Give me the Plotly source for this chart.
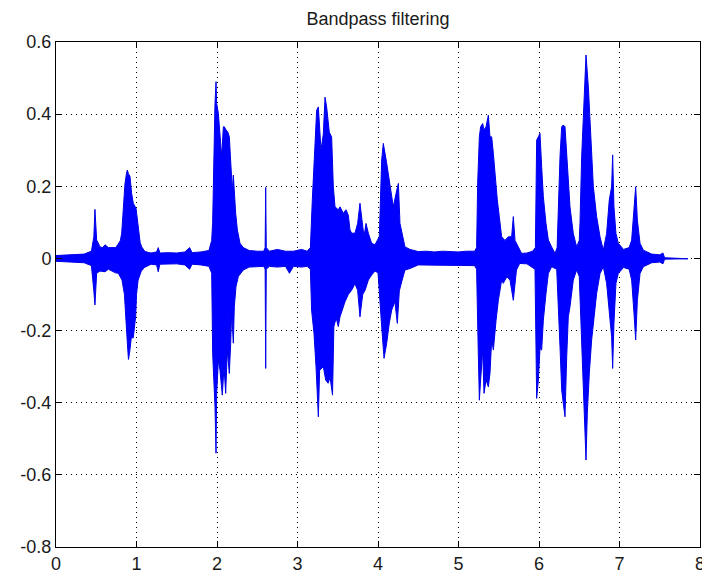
import plotly.graph_objects as go

# ---- Data ----
# Upper envelope of the waveform: time (s) and amplitude
upper_t = [0.0, 0.2, 0.35, 0.44, 0.455, 0.47, 0.484, 0.495, 0.505, 0.53, 0.547, 0.58, 0.609, 0.65, 0.691, 0.74, 0.774,
           0.80, 0.816, 0.84, 0.857, 0.875, 0.886, 0.9, 0.919, 0.94, 0.96, 0.994, 1.01, 1.023, 1.045, 1.064, 1.106,
           1.18, 1.25, 1.27, 1.29, 1.4, 1.5, 1.6, 1.66, 1.69, 1.8, 1.9, 1.934,
           1.946, 1.954, 1.975, 1.988, 1.996, 2.017, 2.037, 2.058, 2.079, 2.091, 2.112, 2.133, 2.153, 2.17, 2.19,
           2.203, 2.215, 2.232, 2.253, 2.286, 2.327, 2.4, 2.5, 2.58, 2.598, 2.605, 2.612, 2.65, 2.75, 2.85, 2.95,
           3.05, 3.12, 3.16,
           3.184, 3.205, 3.238, 3.259, 3.275, 3.292, 3.321, 3.342, 3.362, 3.383, 3.395, 3.424, 3.445, 3.466, 3.507,
           3.528, 3.569, 3.602, 3.631, 3.652, 3.673, 3.714, 3.747, 3.776, 3.797, 3.826, 3.851, 3.88, 3.921, 3.963,
           3.991, 4.016, 4.046, 4.066, 4.108, 4.149, 4.19, 4.224, 4.253, 4.273, 4.306, 4.335, 4.398,
           4.5, 4.6, 4.7, 4.8, 4.9, 5.0, 5.1, 5.2, 5.225,
           5.238, 5.259, 5.275, 5.3, 5.317, 5.342, 5.371, 5.391, 5.412, 5.433, 5.453, 5.482, 5.507, 5.536, 5.577,
           5.619, 5.66, 5.681, 5.702, 5.743, 5.784, 5.85, 5.92, 5.955,
           5.971, 5.992, 6.012, 6.033, 6.054, 6.087, 6.116, 6.157, 6.199, 6.225,
           6.24, 6.261, 6.282, 6.302, 6.323, 6.344, 6.364, 6.385, 6.426, 6.468, 6.5,
           6.509, 6.53, 6.559, 6.584, 6.613, 6.633, 6.654, 6.675, 6.716, 6.758, 6.799,
           6.84, 6.873, 6.902, 6.915, 6.931, 6.956, 6.985, 7.05, 7.12,
           7.151, 7.18, 7.201, 7.222, 7.255, 7.296, 7.4, 7.5, 7.54, 7.56, 7.85]
upper_v = [0.008, 0.01, 0.012, 0.02, 0.04, 0.06, 0.136, 0.08, 0.051, 0.04, 0.032, 0.03, 0.038, 0.03, 0.03, 0.03, 0.04,
           0.05, 0.07, 0.15, 0.208, 0.235, 0.245, 0.235, 0.227, 0.18, 0.153, 0.139, 0.11, 0.079, 0.045, 0.032, 0.019,
           0.015, 0.018, 0.03, 0.015, 0.016, 0.015, 0.018, 0.03, 0.016, 0.018, 0.022, 0.05,
           0.1, 0.227, 0.43, 0.49, 0.43, 0.402, 0.328, 0.282, 0.365, 0.365, 0.356, 0.351, 0.337, 0.254, 0.19,
           0.231, 0.18, 0.125, 0.079, 0.042, 0.03, 0.022, 0.02, 0.02, 0.03, 0.197, 0.03, 0.02, 0.025, 0.02, 0.02,
           0.025, 0.02, 0.03,
           0.162, 0.27, 0.411, 0.42, 0.35, 0.3, 0.345, 0.447, 0.42, 0.36, 0.35, 0.337, 0.199, 0.143, 0.135,
           0.143, 0.125, 0.135, 0.12, 0.079, 0.07, 0.07, 0.097, 0.153, 0.107, 0.06, 0.097, 0.07, 0.042, 0.038,
           0.05, 0.06, 0.273, 0.319, 0.264, 0.199, 0.143, 0.18, 0.208, 0.097, 0.06, 0.032, 0.025,
           0.019, 0.02, 0.018, 0.02, 0.019, 0.018, 0.02, 0.02, 0.03,
           0.208, 0.337, 0.365, 0.374, 0.356, 0.365, 0.397, 0.337, 0.337, 0.291, 0.236, 0.162, 0.116, 0.06, 0.05,
           0.06, 0.06, 0.116, 0.05, 0.032, 0.014, 0.015, 0.02, 0.03,
           0.328, 0.337, 0.347, 0.254, 0.171, 0.097, 0.051, 0.032, 0.014, 0.03,
           0.162, 0.282, 0.365, 0.37, 0.365, 0.282, 0.217, 0.143, 0.069, 0.032, 0.05,
           0.097, 0.282, 0.457, 0.564, 0.476, 0.374, 0.263, 0.199, 0.116, 0.06, 0.023,
           0.069, 0.162, 0.199, 0.287, 0.143, 0.069, 0.042, 0.025, 0.03,
           0.051, 0.125, 0.199, 0.106, 0.042, 0.023, 0.012, 0.01, 0.015, 0.002, 0.001]

# Lower envelope of the waveform: time (s) and amplitude
lower_t = [0.0, 0.2, 0.35, 0.44, 0.455, 0.47, 0.484, 0.495, 0.505, 0.547, 0.609, 0.65, 0.691, 0.74, 0.774,
           0.80, 0.82, 0.85, 0.87, 0.885, 0.9, 0.915, 0.935, 0.96, 0.99, 1.0, 1.02, 1.06, 1.1,
           1.18, 1.25, 1.27, 1.29, 1.4, 1.5, 1.6, 1.66, 1.69, 1.8, 1.9, 1.934,
           1.946, 1.963, 1.975, 1.988, 1.996, 2.017, 2.037, 2.066, 2.087, 2.108, 2.128, 2.153, 2.17, 2.182, 2.203,
           2.215, 2.236, 2.265, 2.327, 2.4, 2.5, 2.58, 2.598, 2.605, 2.612, 2.65, 2.75, 2.85, 2.9, 2.95,
           3.05, 3.12, 3.16,
           3.175, 3.205, 3.23, 3.259, 3.275, 3.321, 3.35, 3.38, 3.405, 3.435, 3.452, 3.48, 3.507, 3.528, 3.56,
           3.59, 3.631, 3.673, 3.714, 3.747, 3.776, 3.81, 3.84, 3.88, 3.921, 3.963, 4.0, 4.046, 4.075, 4.108,
           4.14, 4.17, 4.21, 4.24, 4.265, 4.3, 4.335, 4.398,
           4.5, 4.6, 4.7, 4.8, 4.9, 5.0, 5.1, 5.2, 5.225,
           5.238, 5.259, 5.275, 5.3, 5.317, 5.342, 5.371, 5.391, 5.412, 5.433, 5.467, 5.495, 5.536, 5.556, 5.6,
           5.64, 5.681, 5.72, 5.76, 5.85, 5.95,
           5.971, 5.992, 6.012, 6.033, 6.054, 6.087, 6.116, 6.157, 6.22,
           6.24, 6.261, 6.282, 6.302, 6.323, 6.344, 6.364, 6.385, 6.426, 6.468, 6.5,
           6.516, 6.54, 6.571, 6.584, 6.6, 6.625, 6.654, 6.675, 6.716, 6.758, 6.799,
           6.84, 6.873, 6.902, 6.915, 6.931, 6.956, 6.985, 7.05, 7.12,
           7.151, 7.18, 7.201, 7.222, 7.255, 7.296, 7.4, 7.5, 7.54, 7.56, 7.85]
lower_v = [-0.008, -0.01, -0.012, -0.02, -0.05, -0.09, -0.129, -0.1, -0.041, -0.035, -0.037, -0.03, -0.035, -0.04, -0.041,
           -0.05, -0.06, -0.1, -0.16, -0.23, -0.28, -0.26, -0.22, -0.22, -0.16, -0.1, -0.06, -0.035, -0.025,
           -0.016, -0.018, -0.037, -0.016, -0.016, -0.015, -0.018, -0.03, -0.016, -0.018, -0.022, -0.041,
           -0.263, -0.337, -0.411, -0.54, -0.374, -0.282, -0.31, -0.379, -0.3, -0.374, -0.254, -0.319, -0.235, -0.152, -0.235,
           -0.134, -0.078, -0.05, -0.032, -0.024, -0.022, -0.022, -0.03, -0.305, -0.03, -0.022, -0.024, -0.022, -0.041, -0.022,
           -0.024, -0.022, -0.03,
           -0.143, -0.208, -0.3, -0.439, -0.31, -0.3, -0.337, -0.346, -0.33, -0.379, -0.189, -0.165, -0.189, -0.162, -0.14,
           -0.12, -0.1, -0.088, -0.07, -0.088, -0.162, -0.1, -0.088, -0.06, -0.046, -0.035, -0.04, -0.189, -0.277, -0.235,
           -0.18, -0.143, -0.12, -0.18, -0.09, -0.06, -0.032, -0.028,
           -0.018, -0.02, -0.018, -0.02, -0.019, -0.018, -0.02, -0.02, -0.03,
           -0.18, -0.393, -0.337, -0.254, -0.374, -0.337, -0.356, -0.319, -0.226, -0.254, -0.171, -0.116, -0.06, -0.069, -0.051,
           -0.06, -0.116, -0.032, -0.014, -0.015, -0.03,
           -0.388, -0.337, -0.25, -0.254, -0.171, -0.097, -0.042, -0.023, -0.03,
           -0.134, -0.245, -0.365, -0.402, -0.439, -0.273, -0.162, -0.134, -0.06, -0.032, -0.05,
           -0.134, -0.319, -0.485, -0.559, -0.43, -0.319, -0.226, -0.18, -0.097, -0.042, -0.023,
           -0.069, -0.152, -0.217, -0.305, -0.18, -0.069, -0.042, -0.025, -0.03,
           -0.06, -0.152, -0.226, -0.116, -0.042, -0.023, -0.012, -0.01, -0.015, -0.002, -0.001]

x_ticks = [0, 1, 2, 3, 4, 5, 6, 7, 8]
x_labels = ["0", "1", "2", "3", "4", "5", "6", "7", "8"]
y_ticks = [0.6, 0.4, 0.2, 0, -0.2, -0.4, -0.6, -0.8]
y_labels = ["0.6", "0.4", "0.2", "0", "-0.2", "-0.4", "-0.6", "-0.8"]
title_text = "Bandpass filtering"

# ---- Figure ----
poly_x = upper_t + lower_t[::-1]
poly_y = upper_v + lower_v[::-1]

fig = go.Figure()
fig.add_trace(go.Scatter(
    x=poly_x, y=poly_y, mode="lines", fill="toself",
    fillcolor="#0000ff", line=dict(color="#0000e8", width=1),
    hoverinfo="skip", showlegend=False,
))

font_family = "Liberation Sans, Arial, Helvetica, sans-serif"
axis_common = dict(
    ticks="inside", ticklen=6, tickcolor="black", tickwidth=1,
    showline=True, linecolor="black", linewidth=1, mirror="allticks",
    showgrid=True, gridcolor="black", gridwidth=1, griddash="1px,4px",
    zeroline=False, automargin=False,
    tickfont=dict(family=font_family, size=18, color="#1a1a1a"),
)

fig.update_xaxes(range=[0, 8], tickvals=x_ticks, ticktext=x_labels,
                 ticklabeloverflow="allow", **axis_common)
fig.update_yaxes(range=[-0.8, 0.6], tickvals=y_ticks, ticktext=y_labels, **axis_common)

fig.update_layout(
    width=702, height=573,
    margin=dict(l=56, r=2, t=42, b=26, pad=0),
    paper_bgcolor="white", plot_bgcolor="white",
    title=dict(text=title_text, x=0.5, xref="paper", xanchor="center",
               y=1 - 18.5 / 573, yref="container", yanchor="middle",
               font=dict(family=font_family, size=18, color="#1a1a1a")),
    showlegend=False,
)

fig.write_html(
    "out.html",
    config={"displayModeBar": False},
    post_script="document.body.style.margin='0';document.body.style.overflow='hidden';",
)
